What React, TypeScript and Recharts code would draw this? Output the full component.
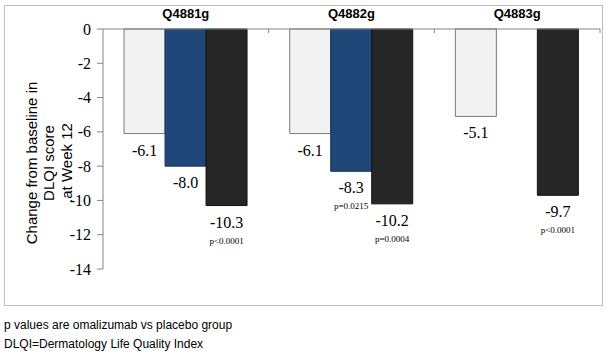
import { Bar, BarChart, LabelList, XAxis, YAxis } from "recharts";

const studies = ["Q4881g", "Q4882g", "Q4883g"];
const placebo = [-6.1, -6.1, -5.1];
const omalizumabLow = [-8.0, -8.3, null];
const omalizumabHigh = [-10.3, -10.2, -9.7];
const pLow = ["", "p=0.0215", ""];
const pHigh = ["p<0.0001", "p=0.0004", "p<0.0001"];
const yTicks = [0, -2, -4, -6, -8, -10, -12, -14];

const data = studies.map((study, i) => ({
  study,
  placebo: placebo[i],
  low: omalizumabLow[i],
  high: omalizumabHigh[i],
}));

const SANS = "Arial, 'Liberation Sans', sans-serif";
const SERIF = "'Times New Roman', 'Liberation Serif', serif";
const AXIS_GREY = "#868686";

const makeValueLabel = (pValues: string[]) => (props: any) => {
  const { x, y, width, height, value, index } = props;
  if (value === null || value === undefined) return null;
  const bottom = Math.max(y, y + height);
  const cx = x + width / 2;
  const p = pValues[index];
  return (
    <g>
      <text
        x={cx}
        y={bottom + 22}
        textAnchor="middle"
        fontFamily={SERIF}
        fontSize={16}
        fill="#000"
      >
        {Number(value).toFixed(1)}
      </text>
      {p ? (
        <text
          x={cx}
          y={bottom + 38}
          textAnchor="middle"
          fontFamily={SERIF}
          fontSize={9}
          fill="#000"
        >
          {p}
        </text>
      ) : null}
    </g>
  );
};

const StudyTick = (props: any) => {
  const { x, y, payload, index, visibleTicksCount } = props;
  const band = (597 - 98 - 2) / studies.length;
  const axisY = y + 14;
  return (
    <g>
      <text
        x={x}
        y={axisY - 11}
        textAnchor="middle"
        fontFamily={SANS}
        fontWeight="bold"
        fontSize={13}
        fill="#000"
      >
        {payload.value}
      </text>
      {index > 0 && (
        <line x1={x - band / 2} x2={x - band / 2} y1={axisY} y2={axisY + 4} stroke={AXIS_GREY} />
      )}
      {index === visibleTicksCount - 1 && (
        <line x1={x + band / 2} x2={x + band / 2} y1={axisY} y2={axisY + 4} stroke={AXIS_GREY} />
      )}
    </g>
  );
};

const ValueTick = (props: any) => {
  const { x, y, payload } = props;
  return (
    <text
      x={x}
      y={y}
      textAnchor="end"
      dominantBaseline="central"
      fontFamily={SERIF}
      fontSize={16}
      fill="#000"
    >
      {payload.value}
    </text>
  );
};

const YTitle = () => {
  const cy = 157;
  const lines = ["Change from baseline in", "DLQI score", ".at Week 12"];
  const xs = [26, 43, 61];
  return (
    <g>
      {lines.map((line, i) => (
        <text
          key={line}
          x={xs[i]}
          y={cy}
          transform={`rotate(-90, ${xs[i]}, ${cy})`}
          textAnchor="middle"
          dominantBaseline="central"
          fontFamily={SANS}
          fontSize={15}
          fill="#000"
        >
          {line}
        </text>
      ))}
    </g>
  );
};

export default function App() {
  return (
    <div
      style={{
        position: "fixed",
        left: 0,
        top: 0,
        width: 608,
        height: 360,
        background: "#fff",
        fontFamily: SANS,
      }}
    >
      <div
        style={{
          position: "absolute",
          left: 4,
          top: 5,
          width: 597,
          height: 299,
          border: "1px solid #bdbdbd",
        }}
      >
        <BarChart
          width={597}
          height={299}
          data={data}
          margin={{ top: 0, right: 2, bottom: 36, left: 0 }}
          barCategoryGap="12.7%"
          barGap={0}
        >
          <XAxis
            dataKey="study"
            orientation="top"
            axisLine={{ stroke: AXIS_GREY }}
            tickLine={false}
            tick={<StudyTick />}
            tickMargin={8}
            height={23}
            interval={0}
          />
          <YAxis
            domain={[-14, 0]}
            ticks={yTicks}
            width={98}
            axisLine={{ stroke: AXIS_GREY }}
            tickLine={{ stroke: AXIS_GREY }}
            tickSize={6}
            tickMargin={6}
            tick={<ValueTick />}
            label={<YTitle />}
            interval={0}
          />
          <Bar dataKey="placebo" fill="#f2f2f2" stroke="#7a7a7a" isAnimationActive={false}>
            <LabelList dataKey="placebo" content={makeValueLabel(["", "", ""])} />
          </Bar>
          <Bar dataKey="low" fill="#1f4778" stroke="#1a3558" isAnimationActive={false}>
            <LabelList dataKey="low" content={makeValueLabel(pLow)} />
          </Bar>
          <Bar dataKey="high" fill="#262626" stroke="#111" isAnimationActive={false}>
            <LabelList dataKey="high" content={makeValueLabel(pHigh)} />
          </Bar>
        </BarChart>
      </div>
      <div
        style={{
          position: "absolute",
          left: 4,
          top: 316,
          fontSize: 12,
          lineHeight: "19px",
          color: "#000",
        }}
      >
        <div>p values are omalizumab vs placebo group</div>
        <div>DLQI=Dermatology Life Quality Index</div>
      </div>
    </div>
  );
}
